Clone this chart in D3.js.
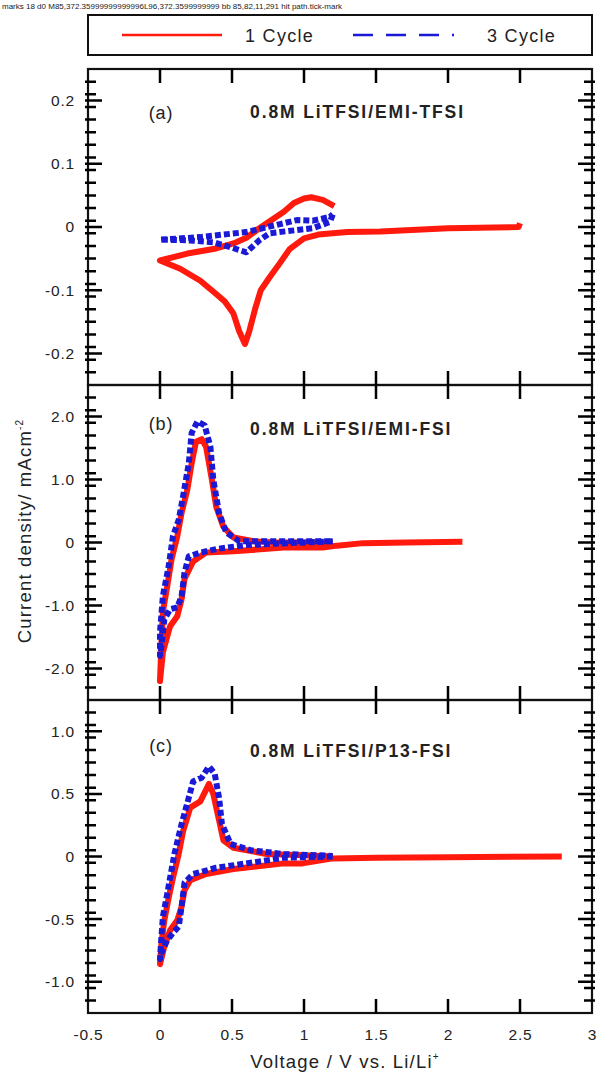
<!DOCTYPE html>
<html>
<head>
<meta charset="utf-8">
<script src="https://cdn.jsdelivr.net/npm/d3@7"></script>
<style>
  body { margin: 0; background: #fff; }
  svg text { font-family: "Liberation Sans", Arial, sans-serif; fill: #222; }
</style>
</head>
<body>
<svg id="cv-chart"></svg>
<script>
// ----- Data (voltage V vs. Li/Li+, current density mA/cm2)

// (a) 0.8M LiTFSI/EMI-TFSI
const a_cycle1 = [
    [2.5, 0.006], [2.49, 0], [2.0, -0.002], [1.53, -0.007], [1.3, -0.008], [1.1, -0.012],
    [1.0, -0.018], [0.9, -0.035], [0.83, -0.058], [0.76, -0.08], [0.7, -0.1], [0.66, -0.13],
    [0.62, -0.165], [0.59, -0.185], [0.55, -0.165], [0.51, -0.137], [0.45, -0.118], [0.39, -0.106],
    [0.28, -0.085], [0.14, -0.066], [0.0, -0.053], [0.19, -0.042], [0.39, -0.034], [0.51, -0.026],
    [0.6, -0.017], [0.69, -0.002], [0.78, 0.012], [0.86, 0.024], [0.93, 0.038], [1.0, 0.045],
    [1.05, 0.047], [1.13, 0.043], [1.21, 0.033]
];
const a_cycle3 = [
    [1.2, 0.02], [1.18, 0.008], [1.06, -0.002], [0.83, -0.008], [0.76, -0.01], [0.69, -0.021],
    [0.6, -0.04], [0.49, -0.032], [0.37, -0.024], [0.19, -0.021], [0.0, -0.02], [0.28, -0.016],
    [0.6, -0.008], [0.86, 0.006], [0.95, 0.011], [1.06, 0.01], [1.18, 0.016], [1.2, 0.02]
];

// (b) 0.8M LiTFSI/EMI-FSI
const b_cycle1 = [
    [2.1, 0.01], [1.71, 0.0], [1.41, -0.01], [1.23, -0.05], [1.13, -0.08], [0.86, -0.08],
    [0.51, -0.14], [0.32, -0.16], [0.23, -0.3], [0.17, -0.58], [0.15, -0.9], [0.12, -1.17],
    [0.07, -1.33], [0.02, -1.74], [0.0, -2.2], [0.01, -1.6], [0.02, -1.1], [0.05, -0.7],
    [0.08, -0.27], [0.12, 0.1], [0.15, 0.47], [0.19, 0.84], [0.22, 1.26], [0.25, 1.6],
    [0.29, 1.64], [0.32, 1.52], [0.36, 1.0], [0.39, 0.57], [0.44, 0.25], [0.51, 0.08],
    [0.65, 0.02], [0.8, 0.0], [1.2, 0.0]
];
const b_cycle3 = [
    [1.2, 0.02], [0.8, -0.02], [0.6, -0.04], [0.4, -0.1], [0.28, -0.16], [0.2, -0.22],
    [0.17, -0.48], [0.15, -0.85], [0.12, -1.03], [0.07, -1.06], [0.03, -1.22], [0.01, -1.64],
    [0.0, -1.8], [0.0, -1.42], [0.02, -0.85], [0.06, -0.38], [0.09, 0.1], [0.13, 0.36],
    [0.16, 0.73], [0.2, 1.26], [0.22, 1.74], [0.26, 1.92], [0.31, 1.86], [0.35, 1.52],
    [0.37, 1.0], [0.41, 0.47], [0.46, 0.16], [0.55, 0.02], [0.8, 0.02], [1.2, 0.02]
];

// (c) 0.8M LiTFSI/P13-FSI
const c_cycle1 = [
    [2.79, 0.0], [2.0, -0.005], [1.5, -0.01], [1.2, -0.015], [0.99, -0.055], [0.86, -0.055],
    [0.51, -0.1], [0.32, -0.14], [0.21, -0.19], [0.17, -0.27], [0.15, -0.4], [0.12, -0.51],
    [0.07, -0.59], [0.03, -0.72], [0.0, -0.86], [0.01, -0.69], [0.03, -0.51], [0.06, -0.33],
    [0.09, -0.17], [0.13, 0.02], [0.16, 0.2], [0.21, 0.39], [0.28, 0.44], [0.34, 0.58],
    [0.37, 0.5], [0.41, 0.29], [0.44, 0.13], [0.51, 0.07], [0.74, 0.02], [1.0, 0.01], [1.2, 0.0]
];
const c_cycle3 = [
    [1.2, 0.0], [0.86, -0.01], [0.63, -0.05], [0.39, -0.09], [0.23, -0.14], [0.17, -0.21],
    [0.15, -0.4], [0.13, -0.56], [0.09, -0.61], [0.05, -0.67], [0.01, -0.77], [0.0, -0.82],
    [0.01, -0.64], [0.02, -0.48], [0.05, -0.3], [0.07, -0.17], [0.1, 0.02], [0.15, 0.26],
    [0.2, 0.47], [0.23, 0.6], [0.29, 0.63], [0.34, 0.72], [0.38, 0.66], [0.41, 0.47],
    [0.43, 0.26], [0.49, 0.1], [0.63, 0.05], [0.86, 0.02], [1.2, 0.005]
];

// Panel labels, titles, y-ranges and tick steps
const panel_tags = ["(a)", "(b)", "(c)"];
const panel_titles = ["0.8M LiTFSI/EMI-TFSI", "0.8M LiTFSI/EMI-FSI", "0.8M LiTFSI/P13-FSI"];
const panel_y_domains = [[-0.25, 0.25], [-2.5, 2.5], [-1.25, 1.25]];
const panel_major_ticks = [
    [-0.2, -0.1, 0, 0.1, 0.2],
    [-2, -1, 0, 1, 2],
    [-1, -0.5, 0, 0.5, 1]
];
const panel_tick_labels = [
    ["-0.2", "-0.1", "0", "0.1", "0.2"],
    ["-2.0", "-1.0", "0", "1.0", "2.0"],
    ["-1.0", "-0.5", "0", "0.5", "1.0"]
];
const panel_minor_steps = [0.02, 0.2, 0.1];
const panel_series = [[a_cycle1, a_cycle3], [b_cycle1, b_cycle3], [c_cycle1, c_cycle3]];

const x_ticks = [-0.5, 0, 0.5, 1, 1.5, 2, 2.5, 3];
const x_tick_labels = ["-0.5", "0", "0.5", "1", "1.5", "2", "2.5", "3"];
const legend_labels = ["1 Cycle", "3 Cycle"];

// ----- Layout
const width = 603, height = 1073;
const plot_left = 88, plot_right = 592;
const panel_tops = [69, 385, 700];
const panel_bottoms = [385, 700, 1013];
const tag_offsets = [50, 45, 52];
const title_offsets = [49, 50, 57];

const svg = d3.select("#cv-chart")
    .attr("width", width)
    .attr("height", height);

const x_scale = d3.scaleLinear()
    .domain([-0.5, 3])
    .range([plot_left, plot_right]);

const series_styles = [
    { stroke: "#ff1a0d", dash: null },
    { stroke: "#1a1ad6", dash: "6,3" }
];

// ----- Legend
const legend = svg.append("g");
legend.append("rect")
    .attr("x", 88).attr("y", 15)
    .attr("width", 504).attr("height", 40)
    .attr("fill", "#fff").attr("stroke", "#111").attr("stroke-width", 2);
legend.append("line")
    .attr("x1", 122).attr("x2", 222).attr("y1", 35).attr("y2", 35)
    .attr("stroke", "#ff1a0d").attr("stroke-width", 2.5);
legend.append("line")
    .attr("x1", 353).attr("x2", 455).attr("y1", 35).attr("y2", 35)
    .attr("stroke", "#1a1ad6").attr("stroke-width", 2.5)
    .attr("stroke-dasharray", "20,13,20,13,20,13,2");
legend.selectAll("text.legend-label")
    .data(legend_labels)
    .enter().append("text")
    .attr("class", "legend-label")
    .attr("x", function (d, i) { return i === 0 ? 245 : 487; })
    .attr("y", 42)
    .attr("font-size", 18)
    .attr("letter-spacing", 1.3)
    .text(function (d) { return d; });

// Helper: one path of tick marks pointing into the plot from a given edge
function tick_path(values, scale, edge, pos, len) {
    const path = d3.path();
    values.forEach(function (d) {
        const v = scale(d);
        if (edge === "left") { path.moveTo(pos, v); path.lineTo(pos + len, v); }
        if (edge === "right") { path.moveTo(pos, v); path.lineTo(pos - len, v); }
        if (edge === "top") { path.moveTo(v, pos); path.lineTo(v, pos + len); }
        if (edge === "bottom") { path.moveTo(v, pos); path.lineTo(v, pos - len); }
    });
    return path.toString();
}

// ----- Panels
panel_tags.forEach(function (tag, p) {
    const top = panel_tops[p], bottom = panel_bottoms[p];
    const y_scale = d3.scaleLinear()
        .domain(panel_y_domains[p])
        .range([bottom, top]);

    const g = svg.append("g");

    // Curves first, frame on top
    const draw = d3.line()
        .x(function (d) { return x_scale(d[0]); })
        .y(function (d) { return y_scale(d[1]); });

    panel_series[p].forEach(function (series, s) {
        g.append("path")
            .datum(series)
            .attr("fill", "none")
            .attr("stroke", series_styles[s].stroke)
            .attr("stroke-width", 6)
            .attr("stroke-linejoin", "round")
            .attr("stroke-dasharray", series_styles[s].dash)
            .attr("d", draw);
    });

    // Y tick labels through the axis generator
    g.append("g")
        .attr("class", "y-labels")
        .attr("transform", "translate(" + plot_left + ",0)")
        .call(d3.axisLeft(y_scale).tickValues(panel_major_ticks[p]).tickSize(0).tickPadding(13)
            .tickFormat(function (d, i) { return panel_tick_labels[p][i]; }))
        .call(function (a) { a.select(".domain").remove(); });

    // Frame
    g.append("rect")
        .attr("x", plot_left).attr("y", top)
        .attr("width", plot_right - plot_left).attr("height", bottom - top)
        .attr("fill", "none").attr("stroke", "#111").attr("stroke-width", 2.2);

    // Minor and major tick marks, drawn after the frame
    const d0 = panel_y_domains[p][0], step = panel_minor_steps[p];
    const n_minor = Math.round((panel_y_domains[p][1] - d0) / step);
    const minor_ticks = d3.range(1, n_minor).map(function (i) { return +(d0 + i * step).toFixed(4); });
    const inner_x = x_ticks.slice(1, -1);

    const tick_specs = [
        [minor_ticks, y_scale, "left", plot_left - 3, 11],
        [panel_major_ticks[p], y_scale, "left", plot_left - 3, 17],
        [minor_ticks, y_scale, "right", plot_right + 3, 11],
        [panel_major_ticks[p], y_scale, "right", plot_right + 3, 17],
        [inner_x, x_scale, "top", top - 1, 15],
        [inner_x, x_scale, "bottom", bottom + 1, 15]
    ];
    tick_specs.forEach(function (t) {
        g.append("path")
            .attr("class", "tick-mark")
            .attr("d", tick_path(t[0], t[1], t[2], t[3], t[4]))
            .attr("fill", "none")
            .attr("stroke", "#000")
            .attr("stroke-width", 2.5);
    });

    // Tag and title
    g.append("text")
        .attr("x", 161).attr("y", top + tag_offsets[p])
        .attr("text-anchor", "middle")
        .attr("font-size", 18)
        .attr("letter-spacing", 0.8)
        .text(tag);
    g.append("text")
        .attr("x", 250).attr("y", top + title_offsets[p])
        .attr("font-size", 17.5)
        .attr("font-weight", "bold")
        .attr("letter-spacing", 1.9)
        .text(panel_titles[p]);

    // X labels only under the last panel
    if (p === panel_tags.length - 1) {
        g.append("g")
            .attr("transform", "translate(0," + bottom + ")")
            .call(d3.axisBottom(x_scale).tickValues(x_ticks).tickSize(0).tickPadding(16)
                .tickFormat(function (d, i) { return x_tick_labels[i]; }))
            .call(function (a) { a.select(".domain").remove(); });
    }
});

svg.selectAll(".tick text")
    .attr("font-size", 15.5)
    .attr("letter-spacing", 0.8)
    .attr("font-family", "Liberation Sans, Arial, sans-serif")
    .attr("fill", "#222");

// Axis titles
const x_title = svg.append("text")
    .attr("x", 345).attr("y", 1068)
    .attr("text-anchor", "middle")
    .attr("font-size", 18.5)
    .attr("letter-spacing", 1.2);
x_title.append("tspan").text("Voltage / V vs. Li/Li");
x_title.append("tspan").attr("dy", -8).attr("font-size", 10).text("+");

const y_title = svg.append("text")
    .attr("transform", "translate(31,531) rotate(-90)")
    .attr("text-anchor", "middle")
    .attr("font-size", 18.5)
    .attr("letter-spacing", 1.2);
y_title.append("tspan").text("Current density/ mAcm");
y_title.append("tspan").attr("dy", -8).attr("font-size", 10).text("-2");

// Temporary check of the tick marks
const marks = document.querySelectorAll("path.tick-mark");
const first_mark = marks.length ? marks[0] : null;
const bb = first_mark ? first_mark.getBBox() : null;
const hit = document.elementFromPoint(94, 101);
svg.append("text")
    .attr("x", 2).attr("y", 9)
    .attr("font-size", 8)
    .text("marks " + marks.length + " d0 " + (first_mark ? first_mark.getAttribute("d").slice(0, 40) : "-") +
        " bb " + (bb ? [bb.x, bb.y, bb.width, bb.height].map(Math.round).join(",") : "-") +
        " hit " + (hit ? hit.tagName + "." + (hit.getAttribute("class") || "") : "-"));
</script>
</body>
</html>
